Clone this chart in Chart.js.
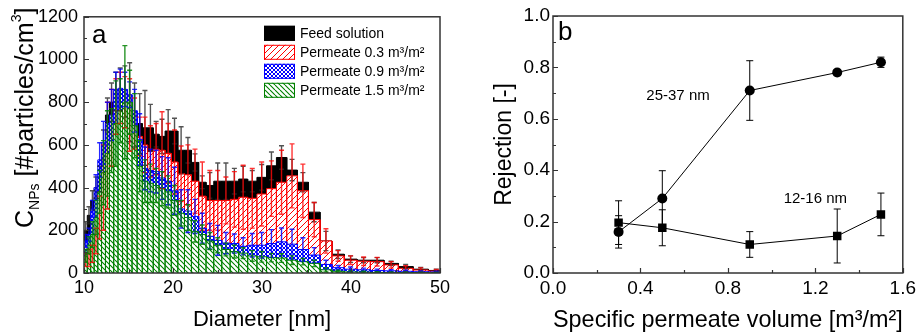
<!DOCTYPE html>
<html><head><meta charset="utf-8">
<script src="https://cdn.jsdelivr.net/npm/chart.js@4/dist/chart.umd.min.js"></script>
<style>
html,body{margin:0;padding:0;background:#fff;width:920px;height:333px;overflow:hidden}
#wa{position:absolute;left:0;top:0;width:460px;height:333px}
#wb{position:absolute;left:460px;top:0;width:460px;height:333px}
</style></head><body>
<div id="wa"><canvas id="ca" width="460" height="333"></canvas></div>
<div id="wb"><canvas id="cb" width="460" height="333"></canvas></div>
<script>
// ---------- Panel a data (SMPS bins, 64 channels/decade) ----------
const binEdges = [10.00,10.37,10.75,11.14,11.55,11.97,12.41,12.86,13.34,13.82,14.33,14.86,15.40,15.97,16.55,17.15,17.78,18.43,19.11,19.81,20.54,21.29,22.07,22.88,23.71,24.58,25.48,26.42,27.38,28.39,29.43,30.51,31.62,32.78,33.98,35.22,36.52,37.86,39.24,40.68,42.17,43.71,45.32,46.98,48.70,50.48];
const feed   = [200,270,340,400,440,600,740,800,850,860,850,800,740,700,680,680,650,640,665,665,575,575,518,425,410,430,430,430,440,430,448,502,541,482,425,285,150,88,65,60,60,45,30,18,12];
const perm03 = [60,70,90,150,260,400,550,680,780,820,800,740,700,640,600,570,580,575,560,520,465,460,430,360,340,340,340,345,355,350,370,395,425,455,385,250,150,80,60,55,53,38,22,14,9];
const perm09 = [150,180,300,400,530,610,700,740,860,865,860,835,760,626,490,480,475,445,430,385,300,290,265,210,172,153,140,138,125,130,130,138,146,135,110,84,40,25,18,15,12,10,8,6,5];
const perm15 = [80,130,180,260,380,470,560,620,700,760,800,800,690,500,430,420,410,395,380,340,280,260,195,180,150,130,110,100,93,80,76,72,70,60,53,45,15,8,5,4,3,2,2,2,1];
const feedErr   = [40,40,45,50,60,70,80,90,90,100,120,185,150,140,175,110,60,80,100,60,110,60,40,30,60,85,85,60,60,50,60,65,55,50,45,45,45,20,15,12,12,10,10,8,6];
const perm03Err = [30,40,40,60,100,200,250,180,130,120,120,170,120,90,130,120,120,180,140,150,130,140,150,160,140,140,110,130,150,140,150,130,150,150,125,80,57,25,20,20,20,15,12,10,8];
const perm09Err = [30,30,40,60,80,100,100,120,80,90,80,60,100,120,100,100,100,100,110,110,90,100,80,70,60,70,50,45,40,55,60,65,65,70,55,35,20,10,10,8,6,5,5,4,4];
const perm15Err = [30,40,60,80,100,150,200,150,200,150,265,150,150,120,100,90,80,80,75,70,60,60,50,45,40,35,30,30,25,25,25,20,20,20,15,15,10,5,5,4,3,3,3,2,2];
const seriesLabels = ['Feed solution','Permeate 0.3 m\u00B3/m\u00B2','Permeate 0.9 m\u00B3/m\u00B2','Permeate 1.5 m\u00B3/m\u00B2'];

// ---------- Panel b data ----------
const volumes   = [0.3, 0.5, 0.9, 1.3, 1.5];
const rej2537   = [0.16, 0.29, 0.71, 0.78, 0.82];
const rej2537Err= [0.063, 0.108, 0.116, 0.012, 0.02];
const rej1216   = [0.196, 0.176, 0.111, 0.144, 0.228];
const rej1216Err= [0.085, 0.07, 0.05, 0.105, 0.083];
const notes = [{text:'25-37 nm', x:0.427, y:0.689},{text:'12-16 nm', x:1.055, y:0.288}];

const FONT = "'Liberation Sans', Arial, sans-serif";

function hatch(color, size, dirs, lw){
  const c = document.createElement('canvas'); c.width = size; c.height = size;
  const g = c.getContext('2d');
  g.fillStyle = '#fff'; g.fillRect(0,0,size,size);
  g.strokeStyle = color; g.lineWidth = lw;
  g.beginPath();
  dirs.forEach(d=>{
    for (let o=-size; o<=size; o+=size){
      if (d==='/'){ g.moveTo(o, size); g.lineTo(o+size, 0); }
      else { g.moveTo(o, 0); g.lineTo(o+size, size); }
    }
  });
  g.stroke();
  return g.createPattern(c, 'repeat');
}
const pRed = hatch('#ff0000', 6, ['/'], 1);
const pBlue = hatch('#0000ff', 4, ['/','\\'], 1);
const pGreen = hatch('#008000', 5, ['\\'], 1.1);

function histPoints(vals){
  const pts = [];
  vals.forEach((v,i)=>{
    const a = binEdges[i], b = binEdges[i+1];
    pts.push({x:a,y:0},{x:a,y:v},{x:b,y:v},{x:b,y:0});
  });
  return pts;
}
function binCenter(i){ return Math.sqrt(binEdges[i]*binEdges[i+1]); }

function frameTicks(chart){
  const {ctx, chartArea:a, scales:{x,y}} = chart;
  ctx.save();
  ctx.strokeStyle = '#333'; ctx.lineWidth = 1.5;
  ctx.strokeRect(a.left, a.top, a.right-a.left, a.bottom-a.top);
  ctx.lineWidth = 1.2;
  ctx.beginPath();
  y.ticks.forEach(t=>{ const py = Math.round(y.getPixelForValue(t.value))+0.5; const len = t.label!=='' ? 5 : 3; ctx.moveTo(a.left, py); ctx.lineTo(a.left+len, py); });
  x.ticks.forEach(t=>{ const px = Math.round(x.getPixelForValue(t.value))+0.5; const len = t.label!=='' ? 5 : 3; ctx.moveTo(px, a.bottom); ctx.lineTo(px, a.bottom-len); });
  ctx.stroke();
  ctx.restore();
}

function errBars(ctx, xs, ys, xArr, yArr, eArr, color, lw, cap){
  ctx.save();
  ctx.strokeStyle = color; ctx.lineWidth = lw;
  ctx.beginPath();
  xArr.forEach((xv,i)=>{
    const px = xs.getPixelForValue(xv);
    const p1 = ys.getPixelForValue(yArr[i]+eArr[i]);
    const p2 = ys.getPixelForValue(Math.max(0, yArr[i]-eArr[i]));
    ctx.moveTo(px, p1); ctx.lineTo(px, p2);
    ctx.moveTo(px-cap, p1); ctx.lineTo(px+cap, p1);
    ctx.moveTo(px-cap, p2); ctx.lineTo(px+cap, p2);
  });
  ctx.stroke();
  ctx.restore();
}

const centers = binEdges.slice(0,-1).map((_,i)=>binCenter(i));
const errSets = [
  [feed, feedErr, 'rgba(40,40,40,0.8)'],
  [perm03, perm03Err, 'rgba(255,0,0,0.8)'],
  [perm09, perm09Err, 'rgba(0,0,255,0.85)'],
  [perm15, perm15Err, 'rgba(0,128,0,0.85)']
];

const panelA = {
  id: 'panelA',
  afterDatasetsDraw(chart){
    const {ctx, scales:{x,y}} = chart;
    ctx.save();
    ctx.beginPath();
    ctx.rect(chart.chartArea.left, chart.chartArea.top, chart.chartArea.right-chart.chartArea.left, chart.chartArea.bottom-chart.chartArea.top);
    ctx.clip();
    errSets.forEach(s=>errBars(ctx, x, y, centers, s[0], s[1], s[2], 1.4, 2.5));
    ctx.restore();
  },
  afterDraw(chart){
    const {ctx, chartArea:a} = chart;
    frameTicks(chart);
    ctx.save();
    const bx = a.right - 176, by0 = a.top + 9;
    chart.data.datasets.forEach((ds,i)=>{
      const by = by0 + i*19;
      ctx.fillStyle = ds.backgroundColor; ctx.fillRect(bx, by, 31, 15);
      ctx.strokeStyle = ds.borderColor; ctx.lineWidth = 1; ctx.strokeRect(bx+0.5, by+0.5, 30, 14);
      ctx.fillStyle = '#000'; ctx.font = '14px ' + FONT; ctx.textBaseline = 'middle'; ctx.textAlign = 'left';
      ctx.fillText(ds.label, bx + 36, by + 8);
    });
    ctx.font = '26px ' + FONT; ctx.textBaseline = 'alphabetic';
    ctx.fillText('a', a.left + 8, a.top + 26);
    ctx.translate(33, 228); ctx.rotate(-Math.PI/2);
    let cx = 0;
    const seg = (t, size, dy)=>{ ctx.font = size + 'px ' + FONT; ctx.fillText(t, cx, dy); cx += ctx.measureText(t).width; };
    seg('C', 25, 0); seg('NPs', 14, 6); seg(' [#particles/cm', 25, 0); seg('3', 14, -12); seg(']', 25, 0);
    ctx.restore();
  }
};

const tickFontA = {family: FONT, size: 18};
new Chart(document.getElementById('ca'), {
  type: 'line',
  data: {
    datasets: [
      {label: seriesLabels[0], data: histPoints(feed), borderColor:'#000', backgroundColor:'#000', fill:'origin', order:4},
      {label: seriesLabels[1], data: histPoints(perm03), borderColor:'#ff0000', backgroundColor:pRed, fill:'origin', order:3},
      {label: seriesLabels[2], data: histPoints(perm09), borderColor:'#0000ff', backgroundColor:pBlue, fill:'origin', order:2},
      {label: seriesLabels[3], data: histPoints(perm15), borderColor:'#008000', backgroundColor:pGreen, fill:'origin', order:1}
    ]
  },
  options: {
    responsive:false, animation:false, events:[],
    elements:{point:{radius:0}, line:{borderWidth:1, tension:0}},
    layout:{padding:{left:0, right:20, top:15, bottom:0}},
    plugins:{legend:{display:false}, tooltip:{enabled:false}},
    scales:{
      x:{type:'linear', min:10, max:50, grid:{display:false, drawTicks:false}, border:{display:false},
         ticks:{stepSize:5, autoSkip:false, maxRotation:0, padding:4, color:'#000', font:tickFontA,
                callback:(v)=> (v%10===0 ? String(v) : '')},
         title:{display:true, text:'Diameter [nm]', color:'#000', font:{family:FONT, size:22, lineHeight:1}, padding:{top:0, bottom:2}},
         afterFit:(s)=>{ s.height = 60; }},
      y:{type:'linear', min:0, max:1200, grid:{display:false, drawTicks:false}, border:{display:false},
         ticks:{stepSize:100, autoSkip:false, padding:6, color:'#000', font:tickFontA,
                callback:(v)=> (v%200===0 ? String(v) : '')},
         afterFit:(s)=>{ s.width = 84; }}
    }
  },
  plugins:[panelA]
});

// ---------- Panel b ----------
const panelB = {
  id:'panelB',
  beforeDatasetsDraw(chart){
    const {ctx, scales:{x,y}} = chart;
    errBars(ctx, x, y, volumes, rej2537, rej2537Err, '#000', 1, 3.5);
    errBars(ctx, x, y, volumes, rej1216, rej1216Err, '#000', 1, 3.5);
  },
  afterDraw(chart){
    const {ctx, chartArea:a, scales:{x,y}} = chart;
    frameTicks(chart);
    ctx.save();
    ctx.fillStyle = '#000';
    ctx.font = '15px ' + FONT; ctx.textBaseline = 'middle'; ctx.textAlign = 'left';
    notes.forEach(n=>ctx.fillText(n.text, x.getPixelForValue(n.x), y.getPixelForValue(n.y)));
    ctx.font = '26px ' + FONT; ctx.textBaseline = 'alphabetic';
    ctx.fillText('b', a.left + 5, a.top + 24);
    ctx.restore();
  }
};
const tickFontB = {family: FONT, size: 19};
new Chart(document.getElementById('cb'), {
  type:'line',
  data:{
    datasets:[
      {label:'25-37 nm', data: volumes.map((v,i)=>({x:v, y:rej2537[i]})), borderColor:'#000', backgroundColor:'#000', pointStyle:'circle', pointRadius:5, pointBorderWidth:0, borderWidth:1},
      {label:'12-16 nm', data: volumes.map((v,i)=>({x:v, y:rej1216[i]})), borderColor:'#000', backgroundColor:'#000', pointStyle:'rect', pointRadius:6, pointBorderWidth:0, borderWidth:1}
    ]
  },
  options:{
    responsive:false, animation:false, events:[],
    elements:{line:{tension:0}},
    layout:{padding:{left:0, right:15, top:16, bottom:0}},
    plugins:{legend:{display:false}, tooltip:{enabled:false}},
    scales:{
      x:{type:'linear', min:0, max:1.6, grid:{display:false, drawTicks:false}, border:{display:false},
         ticks:{stepSize:0.2, autoSkip:false, maxRotation:0, padding:4, color:'#000', font:tickFontB,
                callback:(v)=> (Math.round(v*10)%4===0 ? v.toFixed(1) : '')},
         title:{display:true, text:'Specific permeate volume [m\u00B3/m\u00B2]', color:'#000', font:{family:FONT, size:24, lineHeight:1}, padding:{top:0, bottom:1}},
         afterFit:(s)=>{ s.height = 60; }},
      y:{type:'linear', min:0, max:1, grid:{display:false, drawTicks:false}, border:{display:false},
         ticks:{stepSize:0.1, autoSkip:false, padding:3, color:'#000', font:tickFontB,
                callback:(v)=> (Math.round(v*10)%2===0 ? v.toFixed(1) : '')},
         title:{display:true, text:'Rejection [-]', color:'#000', font:{family:FONT, size:23, lineHeight:1}, padding:{top:33, bottom:0}},
         afterFit:(s)=>{ s.width = 93; }}
    }
  },
  plugins:[panelB]
});
</script>
</body></html>
